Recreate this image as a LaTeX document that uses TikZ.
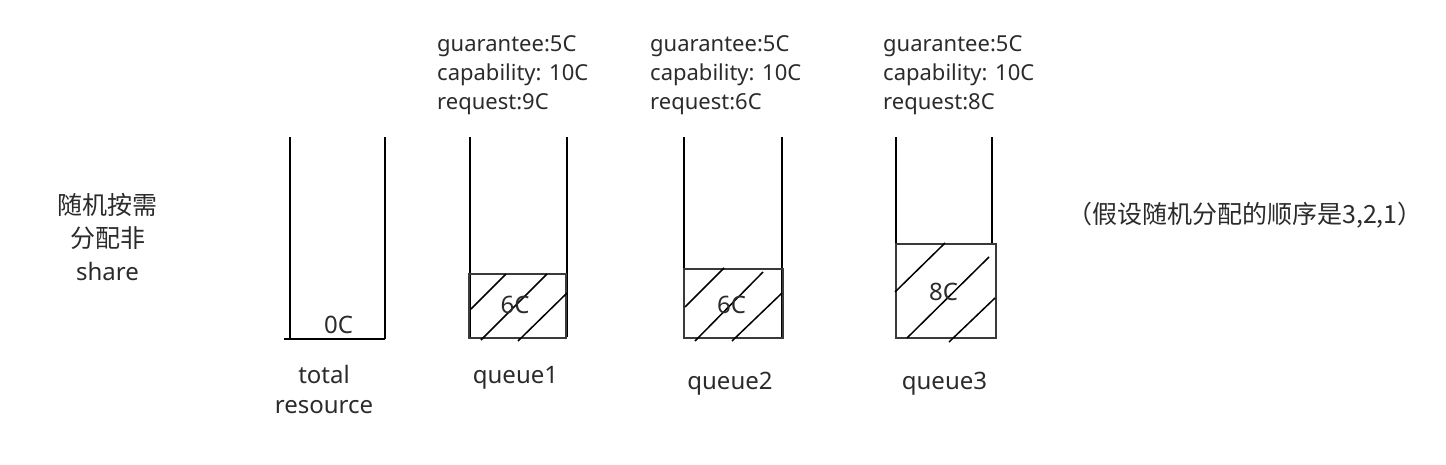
\documentclass[tikz,border=0pt]{standalone}
\usepackage{fontspec}
\setmainfont{Noto Sans}
\newfontfamily\cjk{Noto Sans CJK SC}
\definecolor{txt}{HTML}{2B2B2B}
\definecolor{boxc}{HTML}{3A3A3A}
\begin{document}
\begin{tikzpicture}[x=1pt,y=-1pt,
  wall/.style={line width=2pt,black},
  fillbox/.style={draw=boxc,line width=2pt},
  hatch/.style={line width=1.5pt,black},
  lbl/.style={text=txt,font=\fontsize{24}{32}\selectfont,inner sep=0pt,anchor=base},
  info/.style={text=txt,font=\fontsize{22}{28}\selectfont,inner sep=0pt,anchor=base west},
  cjklbl/.style={text=txt,font=\fontsize{25}{32}\selectfont\cjk,inner sep=0pt}]
\useasboundingbox (0,0) rectangle (1446,464);
% total resource
\coordinate (t0) at (290,137);
\coordinate (t1) at (290,339);
\coordinate (t2) at (385,339);
\coordinate (t3) at (385,137);
\coordinate (tb) at (284,339);
\draw[wall] (t0) -- (t1);
\draw[wall] (t3) -- (t2);
\draw[wall] (tb) -- (t2);
\node[lbl] (zero) at (338.5,333) {0C};
\node[lbl] (tot1) at (324,383) {total};
\node[lbl] (tot2) at (324,413) {resource};
% queue1
\coordinate (a0) at (470,137);
\coordinate (a1) at (470,337);
\coordinate (a2) at (567,137);
\coordinate (a3) at (567,337);
\draw[wall] (a0) -- (a1);
\draw[wall] (a2) -- (a3);
\node[fillbox,minimum width=97pt,minimum height=64pt,inner sep=0pt,anchor=north west] (b1) at (468,273) {};
\draw[hatch] (471,309) -- (506,274);
\draw[hatch] (481,340) -- (547,274);
\draw[hatch] (518,341) -- (567,293);
\node[lbl] (c1) at (515,313) {6C};
\node[lbl] (q1) at (515.5,383) {queue1};
\node[info] (i1a) at (437,51.7) {guarantee:5C};
\node[info] (i1b) at (437,80.3) {capability: 10C};
\node[info] (i1c) at (437,109) {request:9C};
% queue2
\coordinate (d0) at (684,137);
\coordinate (d1) at (684,337);
\coordinate (d2) at (782,137);
\coordinate (d3) at (782,337);
\draw[wall] (d0) -- (d1);
\draw[wall] (d2) -- (d3);
\node[fillbox,minimum width=99pt,minimum height=69pt,inner sep=0pt,anchor=north west] (b2) at (683,268) {};
\draw[hatch] (685,307) -- (724,268);
\draw[hatch] (695,341) -- (763,272);
\draw[hatch] (732,341) -- (782,293);
\node[lbl] (c2) at (731.5,313) {6C};
\node[lbl] (q2) at (730,389) {queue2};
\node[info] (i2a) at (650,51.7) {guarantee:5C};
\node[info] (i2b) at (650,80.3) {capability: 10C};
\node[info] (i2c) at (650,109) {request:6C};
% queue3
\coordinate (e0) at (896,137);
\coordinate (e1) at (896,243);
\coordinate (e2) at (992,137);
\coordinate (e3) at (992,243);
\draw[wall] (e0) -- (e1);
\draw[wall] (e2) -- (e3);
\node[fillbox,minimum width=100pt,minimum height=94pt,inner sep=0pt,anchor=north west] (b3) at (895,243) {};
\draw[hatch] (895,292) -- (945,243);
\draw[hatch] (907,338) -- (989,257);
\draw[hatch] (949,342) -- (995,298);
\node[lbl] (c3) at (943.5,300) {8C};
\node[lbl] (q3) at (944.5,389) {queue3};
\node[info] (i3a) at (883,51.7) {guarantee:5C};
\node[info] (i3b) at (883,80.3) {capability: 10C};
\node[info] (i3c) at (883,109) {request:8C};
% side texts
\node[cjklbl] (l1) at (107.5,205) {随机按需};
\node[cjklbl] (l2) at (107.5,238) {分配非};
\node[lbl] (l3) at (107.5,280) {share};
\node[cjklbl] (right) at (1245,215) {（假设随机分配的顺序是3,2,1）};
\end{tikzpicture}
\end{document}
